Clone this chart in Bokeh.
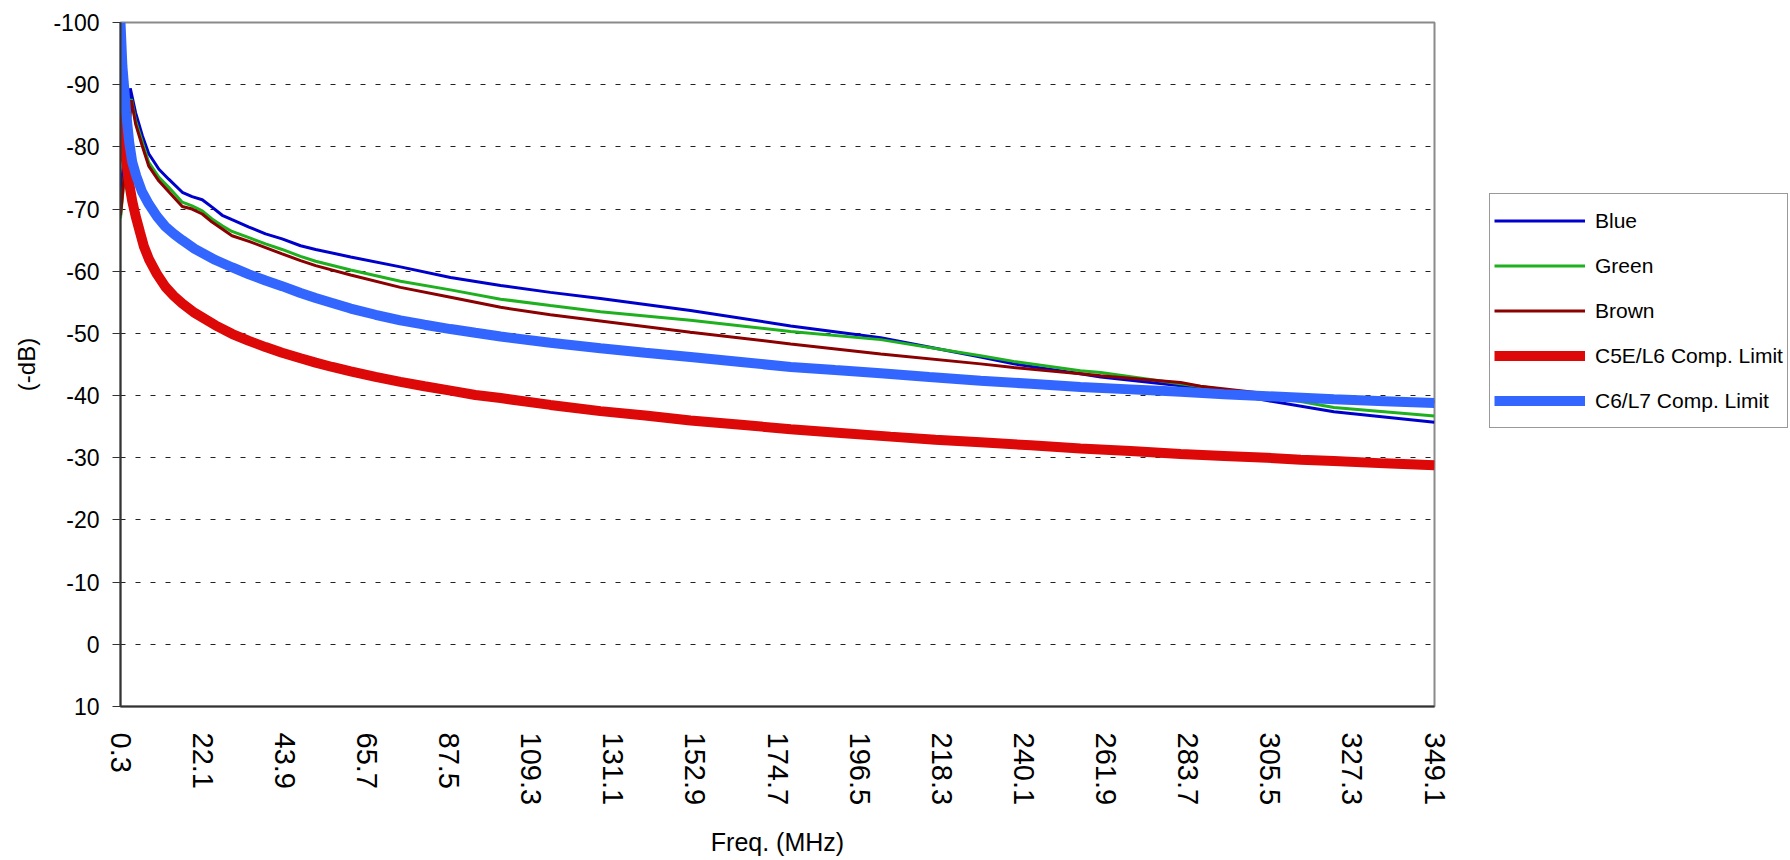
from bokeh.plotting import figure
from bokeh.models import Range1d, FixedTicker, Legend, LegendItem
from bokeh.embed import file_html
from bokeh.resources import INLINE

# ---------------- data ----------------
x_tick_labels = ["0.3", "22.1", "43.9", "65.7", "87.5", "109.3", "131.1", "152.9",
                 "174.7", "196.5", "218.3", "240.1", "261.9", "283.7", "305.5",
                 "327.3", "349.1"]
y_ticks = [-100, -90, -80, -70, -60, -50, -40, -30, -20, -10, 0, 10]
y_tick_labels = ["-100", "-90", "-80", "-70", "-60", "-50", "-40", "-30", "-20",
                 "-10", "0", "10"]

freq_blue = [0.3, 2.9, 4.3, 6.1, 7.8, 10.5, 13.1, 16.7, 19.3, 22.0, 24.6, 27.3, 29.9,
             34.4, 38.8, 43.2, 48.1, 52.1, 61.4, 74.6, 87.9, 101.2, 114.4, 127.7,
             151.6, 178.2, 202.1, 228.6, 237.4, 255.1, 260.5, 281.7, 304.7, 322.4,
             349.1]
blue = [-72.0, -89.4, -85.5, -81.8, -78.9, -76.4, -74.8, -72.7, -72.0, -71.5, -70.3,
        -69.0, -68.3, -67.1, -66.0, -65.2, -64.1, -63.5, -62.3, -60.7, -59.0, -57.7,
        -56.6, -55.6, -53.7, -51.2, -49.3, -46.2, -45.1, -43.5, -43.0, -41.6, -39.2,
        -37.4, -35.7]

freq_green = [0.3, 3.2, 4.3, 6.1, 7.8, 10.5, 13.1, 16.7, 19.3, 22.0, 24.6, 27.3, 29.9,
              34.4, 38.8, 43.2, 48.1, 52.1, 61.4, 74.6, 87.9, 101.2, 114.4, 127.7,
              151.6, 178.2, 202.1, 228.6, 237.4, 255.1, 260.5, 281.7, 304.7, 322.4,
              349.1]
green = [-68.5, -87.7, -84.2, -80.7, -77.5, -75.1, -73.5, -71.1, -70.5, -69.7, -68.4,
         -67.3, -66.4, -65.4, -64.4, -63.5, -62.4, -61.6, -60.2, -58.4, -57.0, -55.5,
         -54.5, -53.5, -52.1, -50.3, -49.0, -46.4, -45.5, -44.0, -43.7, -41.9, -40.0,
         -38.1, -36.7]

freq_brown = [0.3, 3.2, 4.3, 6.1, 7.8, 10.5, 13.1, 16.7, 19.3, 22.0, 24.6, 27.3, 29.9,
              34.4, 38.8, 43.2, 48.1, 52.1, 61.4, 74.6, 87.9, 101.2, 114.4, 127.7,
              151.6, 178.2, 202.1, 228.6, 237.4, 255.1, 260.5, 281.7, 287.0, 304.7,
              322.4, 349.1]
brown = [-69.0, -87.5, -83.7, -80.1, -76.9, -74.5, -72.8, -70.4, -70.0, -69.2, -67.9,
         -66.8, -65.7, -64.8, -63.8, -62.8, -61.7, -60.9, -59.4, -57.4, -55.8, -54.2,
         -53.0, -52.0, -50.2, -48.3, -46.7, -45.1, -44.5, -43.5, -43.2, -42.1, -41.5,
         -40.3, -39.6, -39.0]

freq_c5e = [0.3, 0.8, 1.6, 2.5, 3.4, 4.3, 5.5, 6.5, 7.8, 10.0, 12.2, 14.5, 16.7, 20.0,
            25.5, 30.0, 34.4, 38.8, 43.2, 48.1, 52.1, 56.5, 61.4, 68.0, 74.6, 81.0,
            87.9, 94.5, 101.2, 114.4, 127.7, 139.6, 151.6, 165.0, 178.2, 191.5, 204.7,
            216.6, 228.6, 241.9, 255.1, 268.4, 281.7, 293.2, 304.7, 313.6, 322.4,
            335.8, 349.1]
c5e_limit = [-85.5, -82.5, -78.6, -74.5, -71.3, -68.9, -66.2, -64.0, -62.0, -59.5,
             -57.5, -56.0, -54.8, -53.3, -51.3, -49.9, -48.8, -47.8, -46.9, -46.0,
             -45.3, -44.6, -43.9, -43.0, -42.2, -41.5, -40.8, -40.1, -39.6, -38.5,
             -37.5, -36.8, -36.0, -35.3, -34.6, -34.0, -33.4, -32.9, -32.5, -32.0,
             -31.5, -31.1, -30.6, -30.3, -30.0, -29.7, -29.5, -29.1, -28.8]

freq_c6 = [0.3, 0.8, 1.8, 2.6, 3.4, 4.5, 6.0, 7.8, 10.0, 12.2, 14.5, 16.7, 20.0, 25.5,
           30.0, 34.4, 38.8, 43.2, 48.1, 52.1, 56.5, 61.4, 68.0, 74.6, 81.0, 87.9,
           94.5, 101.2, 114.4, 127.7, 139.6, 151.6, 165.0, 178.2, 190.0, 202.1, 215.0,
           228.6, 241.9, 255.1, 268.4, 281.7, 293.2, 304.7, 322.4, 335.8, 349.1]
c6_limit = [-100.0, -93.0, -85.5, -80.8, -77.6, -75.3, -72.8, -70.8, -68.8, -67.2,
            -66.0, -65.0, -63.6, -61.8, -60.6, -59.5, -58.5, -57.6, -56.5, -55.7,
            -54.9, -54.0, -53.0, -52.1, -51.4, -50.7, -50.1, -49.5, -48.5, -47.6,
            -46.9, -46.2, -45.4, -44.6, -44.1, -43.6, -43.0, -42.4, -41.9, -41.4,
            -41.0, -40.6, -40.2, -39.9, -39.4, -39.1, -38.8]

# ---------------- figure ----------------
FONT = "Liberation Sans"

p = figure(frame_width=1314, frame_height=684, output_backend="svg",
           toolbar_location=None,
           x_range=Range1d(float(x_tick_labels[0]), float(x_tick_labels[-1])),
           y_range=Range1d(y_ticks[-1], y_ticks[0]),
           min_border_left=120, min_border_right=0, min_border_top=22,
           min_border_bottom=154)
p.background_fill_color = "white"
p.border_fill_color = "white"
p.outline_line_color = "#8a8a8a"
p.outline_line_width = 2

r_blue = p.line(freq_blue, blue, line_color="#0000CC", line_width=3)
r_green = p.line(freq_green, green, line_color="#1FB01F", line_width=3)
r_brown = p.line(freq_brown, brown, line_color="#8B0000", line_width=3)
r_c5e = p.line(freq_c5e, c5e_limit, line_color="#DD0808", line_width=10)
r_c6 = p.line(freq_c6, c6_limit, line_color="#3366FF", line_width=10)

# axes
xt = [float(s) for s in x_tick_labels]
p.xaxis.ticker = FixedTicker(ticks=xt)
p.xaxis.major_label_overrides = {v: s for v, s in zip(xt, x_tick_labels)}
p.xaxis.major_label_orientation = "vertical"
p.xaxis.major_tick_out = 0
p.xaxis.major_tick_in = 0
p.xaxis.minor_tick_out = 0
p.xaxis.minor_tick_in = 0
p.xaxis.major_label_standoff = 26
p.xaxis.major_label_text_font = FONT
p.xaxis.major_label_text_font_size = "29px"
p.xaxis.major_label_text_color = "black"
p.xaxis.axis_label = "Freq. (MHz)"
p.xaxis.axis_label_text_font = FONT
p.xaxis.axis_label_text_font_size = "25px"
p.xaxis.axis_label_text_font_style = "normal"
p.xaxis.axis_label_text_color = "black"
p.xaxis.axis_label_standoff = 20
p.xaxis.axis_line_color = "#333333"
p.xaxis.axis_line_width = 2

p.yaxis.ticker = FixedTicker(ticks=y_ticks)
p.yaxis.major_label_overrides = {v: s for v, s in zip(y_ticks, y_tick_labels)}
p.yaxis.major_tick_out = 8
p.yaxis.major_tick_in = 0
p.yaxis.minor_tick_out = 0
p.yaxis.minor_tick_in = 0
p.yaxis.major_tick_line_color = "#333333"
p.yaxis.major_label_standoff = 13
p.yaxis.major_label_text_font = FONT
p.yaxis.major_label_text_font_size = "23px"
p.yaxis.major_label_text_color = "black"
p.yaxis.axis_label = "(-dB)"
p.yaxis.axis_label_text_font = FONT
p.yaxis.axis_label_text_font_size = "24px"
p.yaxis.axis_label_text_font_style = "normal"
p.yaxis.axis_label_text_color = "black"
p.yaxis.axis_label_standoff = 10
p.yaxis.axis_line_color = "#333333"
p.yaxis.axis_line_width = 2

p.xgrid.visible = False
p.ygrid.grid_line_color = "#222222"
p.ygrid.grid_line_width = 1
p.ygrid.grid_line_dash = "5 10"

legend = Legend(items=[LegendItem(label="Blue", renderers=[r_blue]),
                       LegendItem(label="Green", renderers=[r_green]),
                       LegendItem(label="Brown", renderers=[r_brown]),
                       LegendItem(label="C5E/L6 Comp. Limit", renderers=[r_c5e]),
                       LegendItem(label="C6/L7 Comp. Limit", renderers=[r_c6])],
                location=(55, 278))
legend.glyph_width = 91
legend.glyph_height = 45
legend.label_height = 45
legend.label_standoff = 10
legend.padding = 4
legend.spacing = 0
legend.margin = 0
legend.border_line_color = "#333333"
legend.border_line_width = 1.5
legend.background_fill_color = "white"
legend.background_fill_alpha = 1
legend.label_text_font = FONT
legend.label_text_font_size = "21px"
legend.label_text_color = "black"
p.add_layout(legend, "right")

open("out.html", "w").write(file_html(p, INLINE))
